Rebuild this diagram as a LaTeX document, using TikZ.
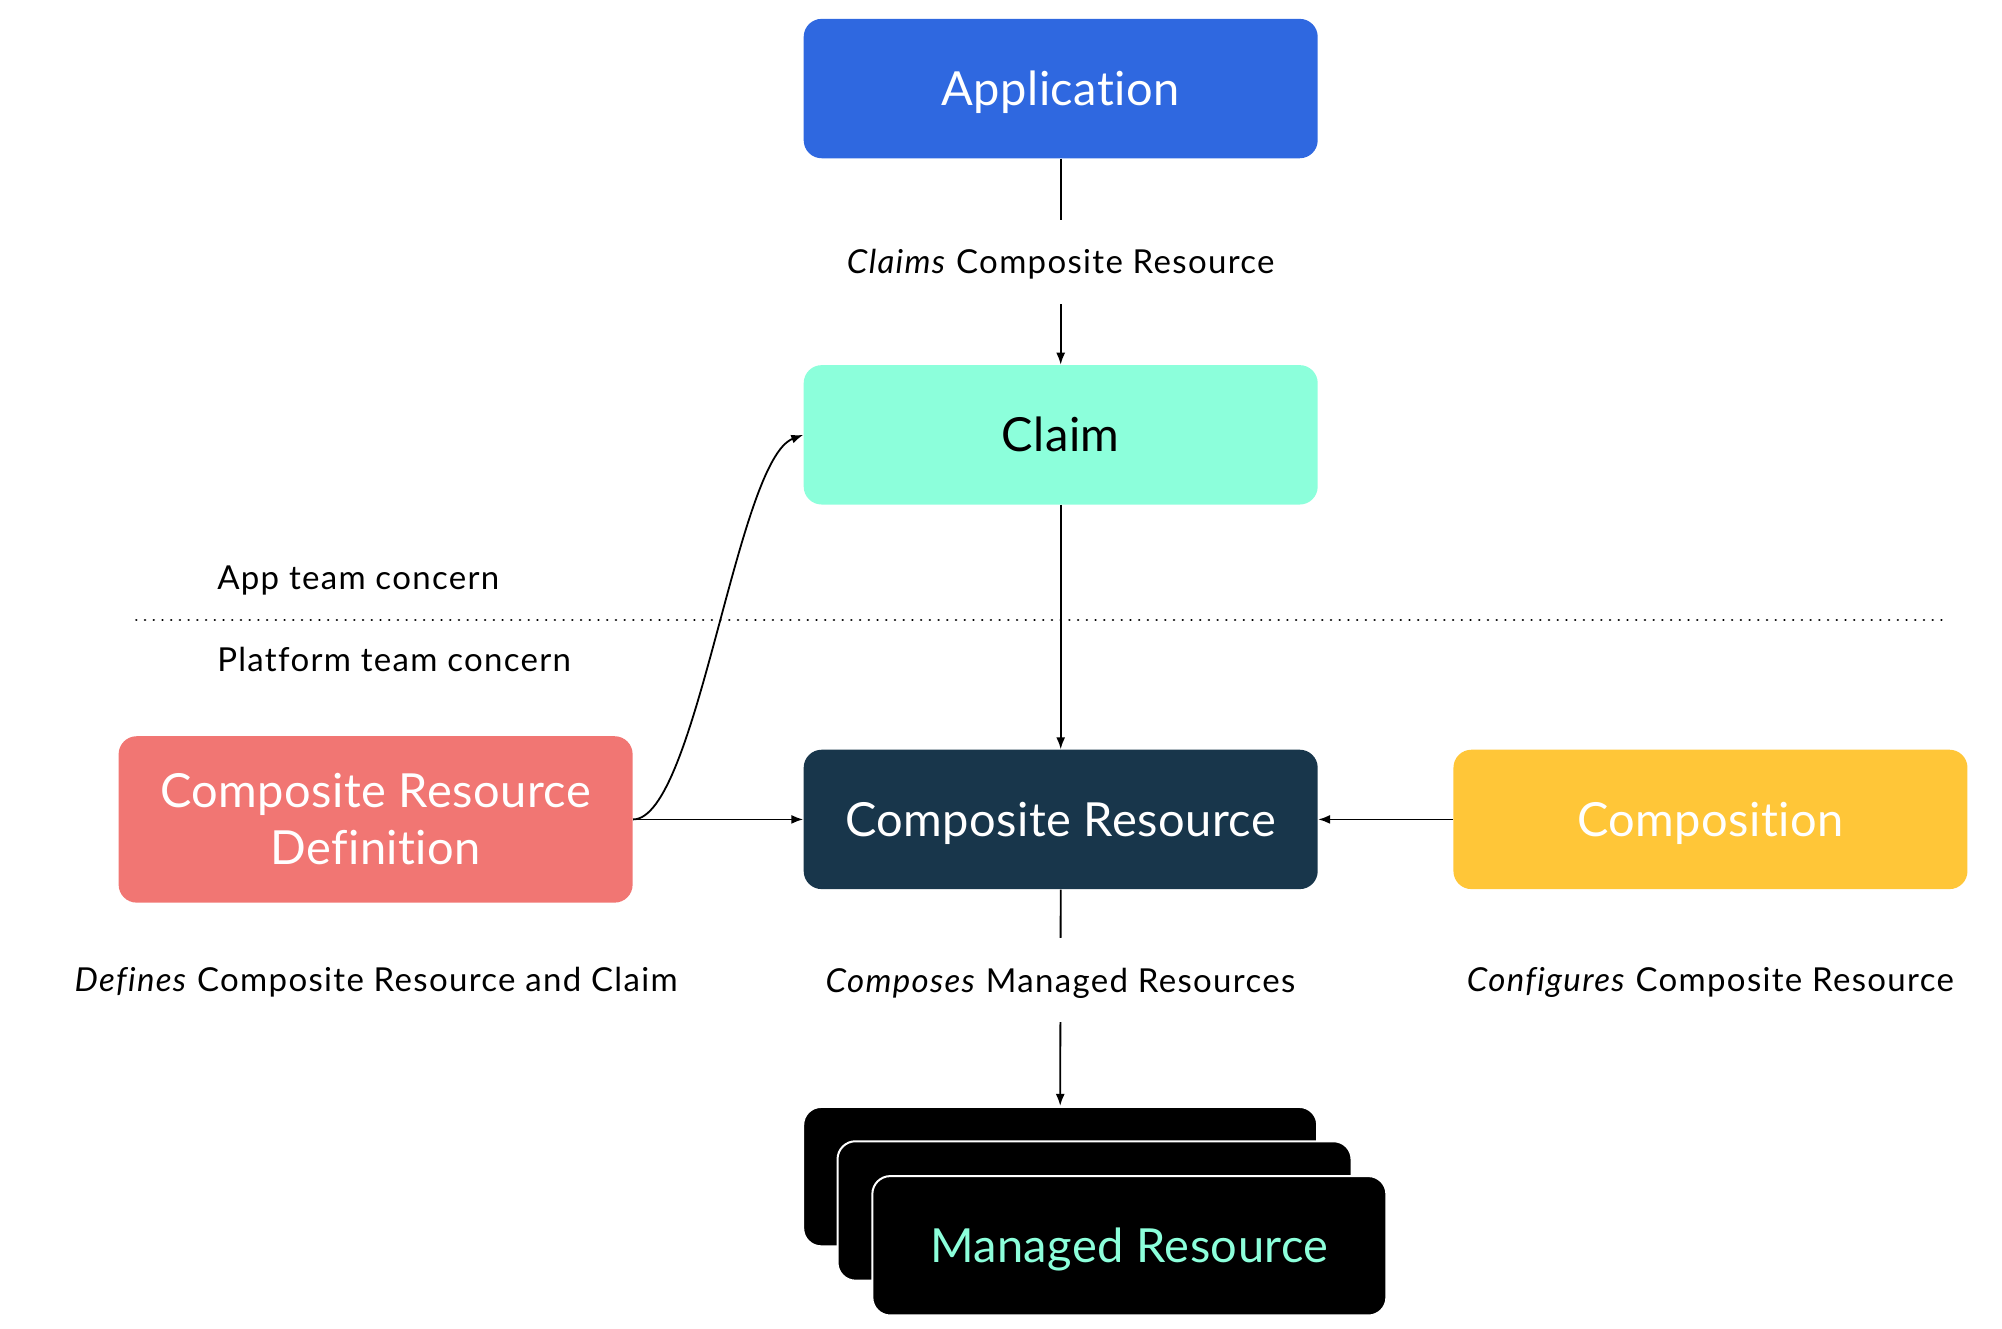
\documentclass[tikz,border=0pt]{standalone}
\usepackage{fontspec}
\setmainfont{Lato}[Ligatures=NoCommon]
\usetikzlibrary{arrows.meta}
\definecolor{appblue}{RGB}{47,104,224}
\definecolor{claimgreen}{RGB}{140,255,219}
\definecolor{xrdred}{RGB}{241,118,115}
\definecolor{xrnavy}{RGB}{24,54,75}
\definecolor{compyellow}{RGB}{255,198,56}
\newcommand{\widthbox}{257pt}
\newcommand{\heightbox}{69.7pt}
\tikzset{
    common/.style={rectangle, rounded corners=9pt, minimum width=\widthbox, minimum height=\heightbox,
        text=white, align=center, font=\fontsize{23.5}{28.5}\selectfont\addfontfeatures{LetterSpace=1}},
    oneline/.style={common, text height=16.8pt, text depth=0pt},
    managed/.style={oneline, fill=black, draw=white, line width=1pt},
    note/.style={inner sep=0pt, text height=11.8pt, text depth=0pt,
        font=\fontsize{16.5}{19}\selectfont\addfontfeatures{LetterSpace=4}},
    gap/.style={note, fill=white, minimum height=42pt},
    link/.style={-{Latex[length=6pt,width=4.5pt]}, line width=0.9pt}
}
\begin{document}
\begin{tikzpicture}[x=0.4975pt, y=-0.4975pt]
    \useasboundingbox (0,0) rectangle (2012,1335);

    \node[oneline, fill=appblue] (app) at (1066,89) {Application};
    \node[oneline, fill=claimgreen, text=black] (claim) at (1066,437) {Claim};
    \node[common, fill=xrdred, minimum height=83.2pt] (xrd) at (377.5,823.5) {Composite Resource\\Definition};
    \node[oneline, fill=xrnavy] (xr) at (1066,823.5) {Composite Resource};
    \node[oneline, fill=compyellow] (comp) at (1719,823.5) {Composition};

    % stack of managed resources
    \node[managed] (mr1) at (1065.5,1182.5) {};
    \node[managed] (mr2) at (1100,1217) {};
    \node[managed, text=claimgreen] (mr3) at (1135,1252) {Managed Resource};

    % concern separator
    \coordinate (sepL) at (137,623);
    \coordinate (sepR) at (1953,623);
    \draw[line width=1.3pt, line cap=round, dash pattern=on 0.01pt off 4.35pt] (sepL) -- (sepR);
    \node[note, anchor=west] (appteam) at (218,581) {App team concern};
    \node[note, anchor=west] (platteam) at (218,663) {Platform team concern};

    \node[note] (defines) at (378,985) {\textit{Defines} Composite Resource and Claim};
    \node[note] (configures) at (1719,985) {\textit{Configures} Composite Resource};

    \draw[link] (app) -- node[gap] {\textit{Claims} Composite Resource} (claim);
    \draw[link] (claim) -- (xr);
    \draw[link] (xrd) -- (xr);
    \draw[link] (comp) -- (xr);
    \draw[link] (xr.south) -- node[gap, pos=0.42] {\textit{Composes} Managed Resources} (mr1.north);
    \draw[link] (xrd.east) .. controls +(64,0) and +(-67,25) .. (claim.west);
\end{tikzpicture}
\end{document}
